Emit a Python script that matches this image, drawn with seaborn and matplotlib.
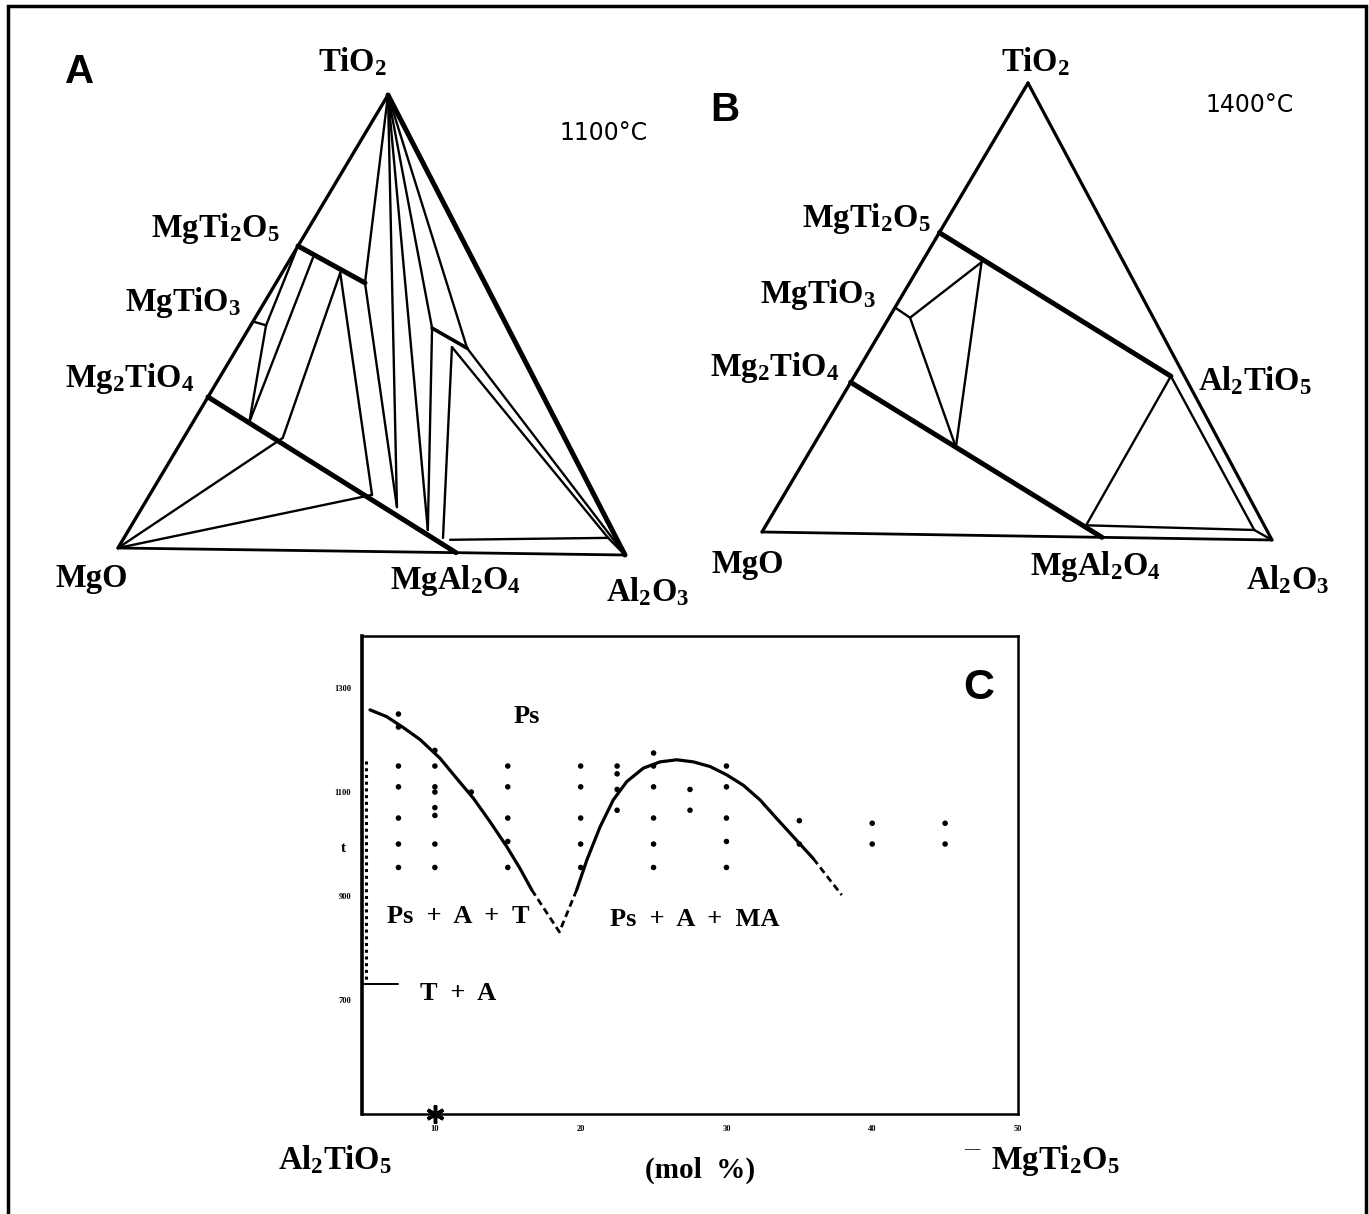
import numpy as np
import pandas as pd
import matplotlib
matplotlib.use("Agg")
import matplotlib.pyplot as plt
import seaborn as sns

# ---------------- data ----------------
# compositions as cation fractions (Mg, Ti, Al)
corners = {"MgO": (1, 0, 0), "TiO2": (0, 1, 0), "Al2O3": (0, 0, 1)}
compounds = {"MgTi2O5": (1/3, 2/3, 0), "MgTiO3": (0.5, 0.5, 0), "Mg2TiO4": (2/3, 1/3, 0),
             "MgAl2O4": (1/3, 0, 2/3), "Al2TiO5": (0, 1/3, 2/3)}

# 1100 C section: solid-solution limits and tie-line ends
pts_1100 = {"U": (0.238, 0.588, 0.174), "U1": (0.316, 0.641, 0.043), "U2": (0.277, 0.609, 0.114),
            "Mt": (0.478, 0.492, 0.030), "K1": (0.151, 0.491, 0.358), "K2": (0.102, 0.448, 0.450),
            "K2b": (0.131, 0.450, 0.419), "L0": (0.610, 0.280, 0.110), "L1": (0.560, 0.246, 0.194),
            "L2": (0.441, 0.124, 0.435), "L3": (0.404, 0.098, 0.498), "L4": (0.366, 0.049, 0.585),
            "L5": (0.344, 0.032, 0.624), "H1": (0.332, 0.028, 0.640), "H2": (0.016, 0.037, 0.947),
            "H3": (0.008, 0.037, 0.955)}
thick_1100 = [("MgTi2O5", "U"), ("Mg2TiO4", "MgAl2O4")]
medium_1100 = [("K1", "K2")]
thin_1100 = [("MgTi2O5", "Mt"), ("MgTiO3", "Mt"), ("Mt", "L0"), ("U1", "L0"), ("U2", "L1"),
             ("U2", "L2"), ("MgO", "L1"), ("MgO", "L2"), ("U", "TiO2"), ("U", "L3"),
             ("TiO2", "L3"), ("TiO2", "L4"), ("K1", "L4"), ("TiO2", "K1"), ("TiO2", "K2"),
             ("K2b", "L5"), ("K2b", "H2"), ("K2", "H3"), ("H1", "H2"), ("H2", "Al2O3"),
             ("H3", "Al2O3")]

# 1400 C section
pts_1400 = {"P": (0.027, 0.358, 0.615), "Q1": (0.281, 0.603, 0.116), "Mt": (0.481, 0.478, 0.041),
            "Q2": (0.527, 0.194, 0.279), "S": (0.352, 0.026, 0.622), "C": (0.0245, 0.0215, 0.954)}
thick_1400 = [("MgTi2O5", "P"), ("Mg2TiO4", "MgAl2O4")]
thin_1400 = [("MgTiO3", "Mt"), ("Mt", "Q1"), ("Mt", "Q2"), ("Q1", "Q2"), ("P", "S"),
             ("S", "C"), ("P", "C"), ("C", "Al2O3")]

# panel C: Al2TiO5 - MgTi2O5 join, temperature (C) vs mol %
liq_left_x = [5.55, 6.69, 7.83, 8.98, 10.35, 11.50, 12.64, 13.78, 14.93, 15.84, 16.64]
liq_left_t = [1258, 1245, 1224, 1201, 1165, 1126, 1088, 1043, 995, 953, 912]
eut_x = [16.64, 18.54, 19.73]
eut_t = [912, 831, 912]
liq_right_x = [19.73, 20.42, 21.33, 22.24, 23.16, 24.30, 25.45, 26.59, 27.73, 28.88, 30.02,
               31.16, 32.30, 33.45, 34.59, 35.96]
liq_right_t = [912, 969, 1033, 1085, 1120, 1146, 1158, 1162, 1158, 1149, 1133,
               1113, 1085, 1049, 1014, 972]
tail_x = [35.96, 36.9, 37.91]
tail_t = [972, 938, 902]
left_bound_x = [5.25, 5.25]
left_bound_t = [1160, 730]
ta_x = [5.0, 7.5]
ta_t = [730, 730]

dot_cols = {7.5: [1250, 1225, 1150, 1110, 1050, 1000, 955],
            10: [1180, 1150, 1110, 1100, 1070, 1055, 1000, 955],
            12.5: [1100],
            15: [1150, 1110, 1050, 1005, 955],
            20: [1150, 1110, 1050, 1000, 955],
            22.5: [1150, 1135, 1105, 1065],
            25: [1175, 1150, 1110, 1050, 1000, 955],
            27.5: [1105, 1065],
            30: [1150, 1110, 1050, 1005, 955],
            35: [1045, 1000],
            40: [1040, 1000],
            45: [1040, 1000]}
x_ticks = [10, 20, 30, 40, 50]
y_ticks = [700, 900, 1100, 1300]

# ---------------- style ----------------
sns.set_style("white")
plt.rcParams['font.family'] = ['Liberation Serif', 'DejaVu Serif']
plt.rcParams['text.color'] = 'black'
plt.rcParams['xtick.color'] = 'black'
plt.rcParams['ytick.color'] = 'black'
plt.rcParams['axes.labelcolor'] = 'black'
plt.rcParams['mathtext.fontset'] = 'custom'
plt.rcParams['mathtext.rm'] = 'Liberation Serif:bold'
plt.rcParams['mathtext.it'] = 'Liberation Serif:bold'
plt.rcParams['mathtext.bf'] = 'Liberation Serif:bold'

W, H = 1369, 1214
fig = plt.figure(figsize=(W / 100, H / 100), dpi=100)


def fx(px):
    return px / W


def fy(py):
    return 1 - py / H


def lab(px, py, s, size=23.5, **kw):
    fig.text(fx(px), fy(py), s, ha='center', va='center', fontsize=size,
             fontweight='bold', color='black', **kw)


def ternary_panel(mgo, tio2, al2o3, pts, thick, thin, medium=(), right_lw=2.3):
    ax = fig.add_axes([fx(mgo[0]), fy(mgo[1]), (al2o3[0] - mgo[0]) / W, (mgo[1] - tio2[1]) / H])
    sx = (tio2[0] - mgo[0]) / (al2o3[0] - mgo[0])
    tilt = (al2o3[1] - mgo[1]) / (mgo[1] - tio2[1])
    allp = {**corners, **compounds, **pts}

    def xy(name):
        mg, ti, al = allp[name]
        s = mg + ti + al
        ti, al = ti / s, al / s
        return al + sx * ti, ti - tilt * al

    def seg(a, b, lw):
        (x0, y0), (x1, y1) = xy(a), xy(b)
        ax.plot([x0, x1], [y0, y1], color='black', lw=lw, solid_capstyle='round', clip_on=False)

    seg("MgO", "TiO2", 2.4)
    seg("TiO2", "Al2O3", right_lw)
    seg("Al2O3", "MgO", 2.0)
    for a, b in thick:
        seg(a, b, 3.6)
    for a, b in medium:
        seg(a, b, 2.6)
    for a, b in thin:
        seg(a, b, 1.7)
    ax.set_xlim(0, 1)
    ax.set_ylim(0, 1)
    ax.axis('off')
    return ax


# ---------------- panel A ----------------
ternary_panel((118, 548), (388, 95), (625, 555), pts_1100, thick_1100, thin_1100,
              medium=medium_1100, right_lw=3.6)
fig.text(fx(80), fy(72), "A", ha='center', va='center', fontsize=29, fontweight='bold',
         family='Liberation Sans', color='black')
fig.text(fx(604), fy(133), "1100°C", ha='center', va='center', fontsize=17,
         family='DejaVu Sans', color='black')
lab(352, 62, r"TiO$_2$")
lab(215, 228, r"MgTi$_2$O$_5$")
lab(183, 302, r"MgTiO$_3$")
lab(130, 378, r"Mg$_2$TiO$_4$")
lab(92, 578, r"MgO")
lab(455, 580, r"MgAl$_2$O$_4$")
lab(648, 592, r"Al$_2$O$_3$")

# ---------------- panel B ----------------
ternary_panel((762, 532), (1028, 83), (1272, 540), pts_1400, thick_1400, thin_1400)
fig.text(fx(725), fy(110), "B", ha='center', va='center', fontsize=29, fontweight='bold',
         family='Liberation Sans', color='black')
fig.text(fx(1250), fy(105), "1400°C", ha='center', va='center', fontsize=17,
         family='DejaVu Sans', color='black')
lab(1035, 62, r"TiO$_2$")
lab(866, 218, r"MgTi$_2$O$_5$")
lab(818, 295, r"MgTiO$_3$")
lab(775, 367, r"Mg$_2$TiO$_4$")
lab(1255, 381, r"Al$_2$TiO$_5$")
lab(748, 565, r"MgO")
lab(1095, 567, r"MgAl$_2$O$_4$")
lab(1288, 580, r"Al$_2$O$_3$")

# ---------------- panel C ----------------
axc = fig.add_axes([fx(362), fy(1114), 656 / W, 478 / H])
dots = pd.DataFrame([(x, t) for x, ts in dot_cols.items() for t in ts], columns=["x", "t"])
sns.scatterplot(data=dots, x="x", y="t", color='black', s=16, edgecolor='none', ax=axc)
sns.lineplot(x=liq_left_x, y=liq_left_t, sort=False, estimator=None, color='black', lw=2.3, ax=axc)
sns.lineplot(x=liq_right_x, y=liq_right_t, sort=False, estimator=None, color='black', lw=2.3, ax=axc)
axc.plot(eut_x, eut_t, color='black', lw=2.0, ls=(0, (2.5, 1.5)))
axc.plot(tail_x, tail_t, color='black', lw=2.0, ls=(0, (2.5, 1.5)))
axc.plot(left_bound_x, left_bound_t, color='black', lw=2.2, ls=(0, (1, 1.2)))
axc.plot(ta_x, ta_t, color='black', lw=1.4)
axc.plot([10], [481], marker=(6, 2, 0), ms=13, mew=2.5, color='black', clip_on=False)

axc.set_xlim(5, 50)
axc.set_ylim(481, 1400)
axc.set_xticks(x_ticks)
axc.set_xticklabels([str(v) for v in x_ticks], fontsize=6, fontweight='bold')
axc.set_yticks(y_ticks)
axc.set_yticklabels([str(v) for v in y_ticks], fontsize=6, fontweight='bold')
axc.tick_params(length=2, width=1, pad=6, direction='out')
axc.set_xlabel("")
axc.set_ylabel("")
for sp in axc.spines.values():
    sp.set_linewidth(1.8)
    sp.set_color('black')
axc.spines['left'].set_linewidth(2.6)

axc.text(16.3, 1246, "Ps", ha='center', va='center', fontsize=19, fontweight='bold')
axc.text(11.6, 860, "Ps  +  A  +  T", ha='center', va='center', fontsize=19, fontweight='bold')
axc.text(27.85, 854, "Ps  +  A  +  MA", ha='center', va='center', fontsize=19, fontweight='bold')
axc.text(11.6, 713, "T  +  A", ha='center', va='center', fontsize=19, fontweight='bold')
axc.text(47.3, 1300, "C", ha='center', va='center', fontsize=31, fontweight='bold',
         family='Liberation Sans')
lab(343, 848, "t", size=11)

lab(335, 1160, r"Al$_2$TiO$_5$")
lab(700, 1170, "(mol  %)", size=21)
lab(972, 1150, "—", size=11)
lab(1055, 1160, r"MgTi$_2$O$_5$")

# outer frame
fig.add_artist(plt.Rectangle((fx(8), -0.01), fx(1358), fy(6) + 0.01, transform=fig.transFigure,
                             fill=False, edgecolor='black', lw=2.5))

fig.savefig("out.png", dpi=100, facecolor='white')
